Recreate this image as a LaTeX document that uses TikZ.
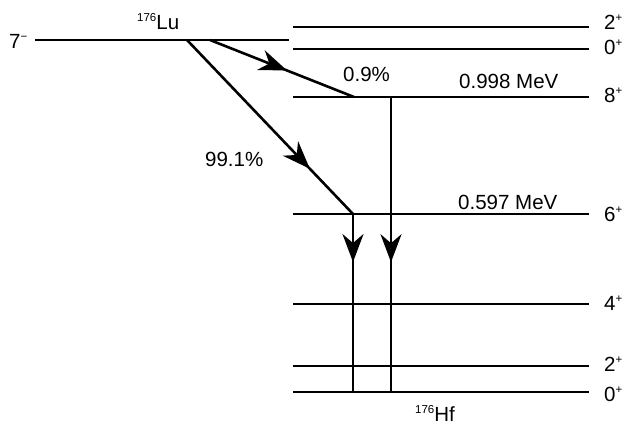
\documentclass[tikz,border=0pt]{standalone}
\usepackage{fontspec}
\setmainfont{Liberation Sans}
\usetikzlibrary{arrows.meta, decorations.markings}
\newcommand{\sups}[1]{\raisebox{8pt}{\fontsize{11.5}{12}\selectfont #1}}

\begin{document}
\begin{tikzpicture}[x=1pt, y=-1pt,
    every node/.style={font=\fontsize{20.5}{24}\selectfont, inner sep=0pt, anchor=base west},
    level/.style={line width=2.6pt},
    decay/.style={line width=2.6pt, postaction={decorate},
      decoration={markings, mark=at position #1 with
        {\arrow{Stealth[length=28pt, width=21pt, inset=9pt]}}}}]
  \useasboundingbox (0,0) rectangle (626,427);
  % parent level
  \coordinate (lul) at (35,40);
  \coordinate (lur) at (289,40);
  \draw[level] (lul) -- (lur);
  \node (luspin) at (9,49) {7\sups{−}};
  \node (luname) at (137,30) {\sups{176}Lu};
  % daughter levels
  \foreach \n/\y/\s/\b in {a/27/2/30, b/49/0/55, c/97/8/103, d/214/6/222,
                           e/304/4/311, f/366/2/371, g/392/0/401} {
    \coordinate (\n l) at (293,\y);
    \coordinate (\n r) at (589,\y);
    \draw[level] (\n l) -- (\n r);
    \node (\n spin) at (604,\b) {\s\sups{+}};
  }
  \node (hfname) at (415,421) {\sups{176}Hf};
  % beta branches
  \coordinate (bsmall) at (210,40);
  \coordinate (bbig) at (187,40);
  \coordinate (e8) at (354,97);
  \coordinate (e6) at (353,214);
  \draw[decay=0.535] (bsmall) -- (e8);
  \draw[decay=0.74] (bbig) -- (e6);
  \node (psmall) at (343,82) {0.9\%};
  \node (pbig) at (205,167) {99.1\%};
  \node (en8) at (459,89) {0.998 MeV};
  \node (en6) at (458,210) {0.597 MeV};
  % gamma cascades
  \coordinate (g8t) at (391,97);
  \coordinate (g8b) at (391,392);
  \coordinate (g6b) at (353,392);
  \draw[decay=0.56] (g8t) -- (g8b);
  \draw[decay=0.27] (e6) -- (g6b);
\end{tikzpicture}
\end{document}
